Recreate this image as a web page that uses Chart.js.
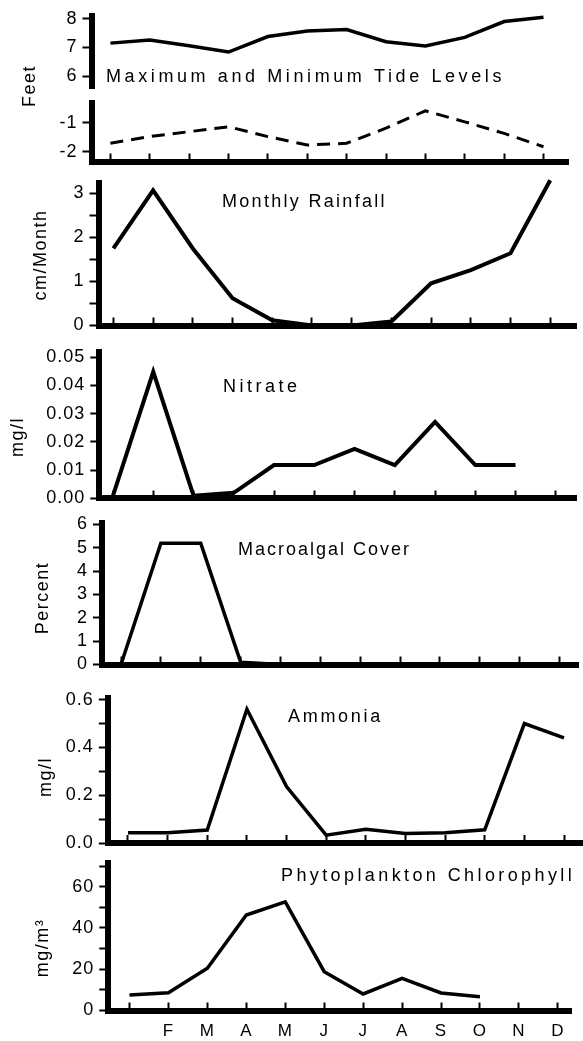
<!DOCTYPE html>
<html>
<head>
<meta charset="utf-8">
<script src="https://cdn.jsdelivr.net/npm/chart.js@4.4.1/dist/chart.umd.min.js"></script>
<style>
  html, body { margin: 0; padding: 0; background: #fff; }
  #wrap { position: relative; width: 583px; height: 1041px; }
  #wrap canvas { position: absolute; left: 0; top: 0; }
</style>
</head>
<body>
<div id="wrap"></div>
<script>
// monthly values, January .. December
const monthLabels = ['', 'F', 'M', 'A', 'M', 'J', 'J', 'A', 'S', 'O', 'N', 'D'];

const tideMax = [7.15, 7.26, 7.06, 6.84, 7.38, 7.57, 7.62, 7.2, 7.05, 7.35, 7.9, 8.05];
const tideMin = [-1.7, -1.47, -1.3, -1.13, -1.47, -1.76, -1.7, -1.18, -0.58, -0.96, -1.36, -1.82];
const rainfall = [1.75, 3.07, 1.75, 0.62, 0.12, 0, 0, 0.09, 0.96, 1.26, 1.64, 3.3];
const nitrate = [0.001, 0.0448, 0.001, 0.002, 0.0118, 0.0118, 0.0175, 0.0118, 0.0271, 0.0118, 0.0118, null];
const macroalgae = [0, 5.2, 5.2, 0.1, 0, 0, 0, 0, 0, 0, 0, 0];
const ammonia = [0.043, 0.043, 0.054, 0.56, 0.236, 0.033, 0.057, 0.04, 0.043, 0.055, 0.5, 0.44];
const chlorophyll = [7.5, 8.6, 20.5, 46.3, 52.7, 18.8, 8, 15.6, 8.5, 6.7, null, null];

// labelled y ticks per panel
const tideMaxTicks = [6, 7, 8];
const tideMinTicks = [-2, -1];
const rainTicks = [0, 1, 2, 3];
const nitrateTicks = [0, 0.01, 0.02, 0.03, 0.04, 0.05];
const algaeTicks = [0, 1, 2, 3, 4, 5, 6];
const ammoniaTicks = [0, 0.2, 0.4, 0.6];
const chlTicks = [0, 20, 40, 60];

const W = 583, H = 1041;
const FONT = '"Liberation Sans", Arial, sans-serif';

// titles and rotated unit labels, drawn on top of each panel
const panelText = {
  id: 'panelText',
  beforeDraw(chart) { chart.ctx.letterSpacing = '1px'; },
  afterDraw(chart, args, opts) {
    const ctx = chart.ctx;
    for (const t of opts.items || []) {
      ctx.save();
      ctx.fillStyle = '#000';
      ctx.font = (t.size || 18) + 'px ' + FONT;
      ctx.letterSpacing = (t.spacing || 0) + 'px';
      ctx.textBaseline = 'middle';
      ctx.textAlign = t.rotate ? 'center' : 'left';
      ctx.translate(t.x, t.y);
      if (t.rotate) ctx.rotate(-Math.PI / 2);
      ctx.fillText(t.text, 0, 0);
      ctx.restore();
    }
    ctx.letterSpacing = '0px';
  }
};

function panel(p) {
  const canvas = document.createElement('canvas');
  canvas.width = W;
  canvas.height = H;
  document.getElementById('wrap').appendChild(canvas);

  const [left, top, right, bottom] = p.area;
  const step = (p.decX - p.janX) / 11;
  const xH = p.showX ? 40 : 0;
  const isLabel = v => p.yTicks.some(t => Math.abs(t - v) < 1e-9);

  new Chart(canvas, {
    type: 'line',
    data: {
      datasets: [{
        data: p.values.map((v, i) => ({ x: i, y: v })),
        borderColor: '#000',
        borderWidth: p.lineWidth || 3.5,
        borderDash: p.dash || [],
        pointRadius: 0,
        tension: 0,
        clip: false
      }]
    },
    options: {
      responsive: false,
      animation: false,
      events: [],
      layout: {
        autoPadding: false,
        padding: { left: 0, top: top, right: W - right, bottom: H - bottom - xH }
      },
      plugins: {
        legend: { display: false },
        tooltip: { enabled: false },
        panelText: { items: p.texts }
      },
      scales: {
        x: {
          type: 'linear',
          display: p.showX,
          min: -(p.janX - left) / step,
          max: 11 + (right - p.decX) / step,
          afterFit: s => { s.height = xH; },
          // negative length puts the tick marks above the axis line
          grid: { drawOnChartArea: false, tickLength: -8, tickWidth: 2, tickColor: '#000' },
          border: { width: 6, color: '#000' },
          ticks: {
            stepSize: 1,
            includeBounds: false,
            autoSkip: false,
            maxRotation: 0,
            padding: 19,
            color: '#000',
            font: { family: FONT, size: 17 },
            callback: v => (p.months ? p.months[v] || '' : '')
          }
        },
        y: {
          min: p.yMin,
          max: p.yMax,
          afterFit: s => { s.width = left; },
          grid: { drawOnChartArea: false, tickLength: 9, tickWidth: 2, tickColor: '#000' },
          border: { width: 6, color: '#000' },
          ticks: {
            stepSize: p.yStep,
            includeBounds: false,
            autoSkip: false,
            padding: 5,
            color: '#000',
            font: { family: FONT, size: 18 },
            callback: v => (isLabel(v) ? v.toFixed(p.dec) : '')
          }
        }
      }
    },
    plugins: [panelText]
  });
}

panel({
  values: tideMax, yTicks: tideMaxTicks, dec: 0,
  area: [91.5, 15, 568, 88], janX: 110.4, decX: 543.5,
  yMin: 5.59, yMax: 8.1, yStep: 1, showX: false,
  texts: [
    { text: 'Maximum and Minimum Tide Levels', x: 106, y: 77, spacing: 3.6 },
    { text: 'Feet', x: 30, y: 86, rotate: true, spacing: 1.5 }
  ]
});

panel({
  values: tideMin, yTicks: tideMinTicks, dec: 0,
  area: [91.5, 103, 568, 161.5], janX: 110.4, decX: 543.5,
  yMin: -2.33, yMax: -0.31, yStep: 1, showX: true,
  lineWidth: 3, dash: [13, 8], texts: []
});

panel({
  values: rainfall, yTicks: rainTicks, dec: 0,
  area: [98.5, 183.3, 576, 325.5], janX: 113.4, decX: 550.2,
  yMin: 0, yMax: 3.23, yStep: 0.5, showX: true, lineWidth: 4,
  texts: [
    { text: 'Monthly Rainfall', x: 222, y: 202, spacing: 2.3 },
    { text: 'cm/Month', x: 41, y: 255, rotate: true, spacing: 1.5 }
  ]
});

panel({
  values: nitrate, yTicks: nitrateTicks, dec: 2,
  area: [99.3, 351.7, 576, 498.5], janX: 113, decX: 555.8,
  yMin: 0, yMax: 0.0519, yStep: 0.01, showX: true, lineWidth: 4,
  texts: [
    { text: 'Nitrate', x: 223, y: 387, spacing: 3.5 },
    { text: 'mg/l', x: 18, y: 437, rotate: true, spacing: 1.5 }
  ]
});

panel({
  values: macroalgae, yTicks: algaeTicks, dec: 0,
  area: [102, 523.3, 578, 664.5], janX: 121, decX: 559.5,
  yMin: 0, yMax: 6.05, yStep: 1, showX: true,
  texts: [
    { text: 'Macroalgal Cover', x: 238, y: 550, spacing: 2 },
    { text: 'Percent', x: 43, y: 598, rotate: true, spacing: 1.5 }
  ]
});

panel({
  values: ammonia, yTicks: ammoniaTicks, dec: 1,
  area: [107.8, 698, 583, 843], janX: 128, decX: 564.7,
  yMin: 0, yMax: 0.607, yStep: 0.1, showX: true,
  texts: [
    { text: 'Ammonia', x: 288, y: 717, spacing: 2.7 },
    { text: 'mg/l', x: 46, y: 777, rotate: true, spacing: 1.5 }
  ]
});

panel({
  values: chlorophyll, yTicks: chlTicks, dec: 0, months: monthLabels,
  area: [108.3, 863, 583, 1010.5], janX: 130, decX: 569,
  yMin: 0, yMax: 71.5, yStep: 10, showX: true,
  texts: [
    { text: 'Phytoplankton Chlorophyll', x: 281, y: 876, spacing: 3.4 },
    { text: 'mg/m\u00b3', x: 43, y: 948, rotate: true, spacing: 1.5 }
  ]
});
</script>
</body>
</html>
